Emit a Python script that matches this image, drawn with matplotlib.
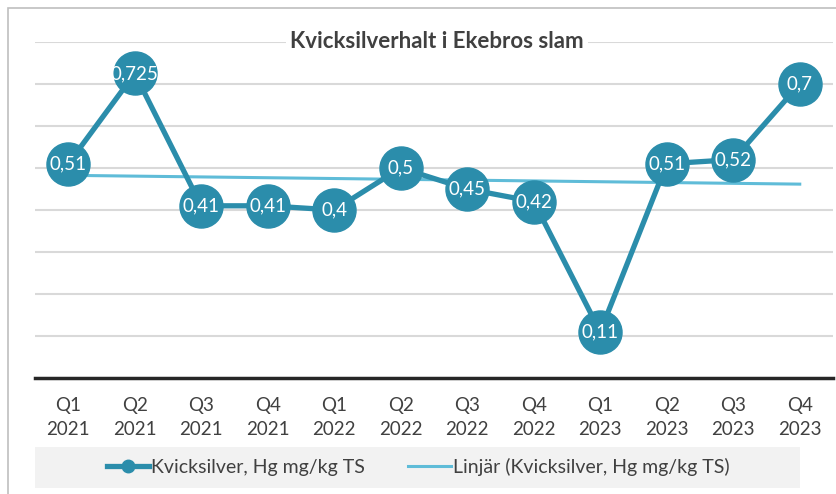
import numpy as np
import matplotlib.pyplot as plt
from matplotlib.patches import Rectangle
from matplotlib.lines import Line2D

quarters = ["Q1", "Q2", "Q3", "Q4", "Q1", "Q2", "Q3", "Q4", "Q1", "Q2", "Q3", "Q4"]
years = ["2021"] * 4 + ["2022"] * 4 + ["2023"] * 4
hg_values = [0.51, 0.725, 0.41, 0.41, 0.4, 0.5, 0.45, 0.42, 0.11, 0.51, 0.52, 0.7]
labels = [str(v).replace(".", ",") for v in hg_values]

main_col = "#2b8dab"
trend_col = "#5fbcd8"

plt.rcParams['font.family'] = ['Lato', 'DejaVu Sans']

fig = plt.figure(figsize=(8.37, 4.94), dpi=100)
W, H = 837, 494

# outer chart frame (cut at right/bottom like the screenshot)
fig.patches.append(Rectangle((8 / W, -0.1), 1.2, (H - 8) / H + 0.1, transform=fig.transFigure,
                             fill=False, edgecolor="#bfbfbf", lw=1.2))

ax = fig.add_axes([35 / W, (H - 378) / H, (833 - 35) / W, (378 - 42) / H])
x = np.arange(len(hg_values))

ax.set_ylim(0, 0.8)
ax.set_xlim(-0.5, len(hg_values) - 0.5)
for g in np.arange(0.1, 0.81, 0.1):
    ax.axhline(g, color="#d9d9d9", lw=1.5, zorder=0)

# linear trend
k, m = np.polyfit(x, hg_values, 1)
ax.plot(x, k * x + m, color=trend_col, lw=2.2, zorder=2)

ax.plot(x, hg_values, color=main_col, lw=3.8, marker="o", ms=31, zorder=3)
for xi, v, lab in zip(x, hg_values, labels):
    ax.text(xi, v, lab, color="white", ha="center", va="center", fontsize=13.5, zorder=4)

for s in ["top", "right", "left"]:
    ax.spines[s].set_visible(False)
ax.spines["bottom"].set_linewidth(2.5)
ax.spines["bottom"].set_color("#262626")
ax.set_yticks([])
ax.set_xticks(x)
ax.set_xticklabels([f"{q}\n{y}" for q, y in zip(quarters, years)], fontsize=13.5,
                   color="#404040", linespacing=1.45)
ax.tick_params(axis="x", length=0, pad=14)

fig.text(437 / W, (H - 42) / H, "Kvicksilverhalt i Ekebros slam", ha="center", va="center",
         fontsize=16, fontweight="bold", color="#404040",
         bbox=dict(facecolor="white", edgecolor="none", pad=3))

# legend
fig.patches.append(Rectangle((35 / W, (H - 488) / H), (800 - 35) / W, 41 / H,
                             transform=fig.transFigure, facecolor="#f2f2f2", edgecolor="none"))
handles = [Line2D([], [], color=main_col, lw=3.8, marker="o", ms=9),
           Line2D([], [], color=trend_col, lw=2.2)]
fig.legend(handles, ["Kvicksilver, Hg mg/kg TS", "Linjär (Kvicksilver, Hg mg/kg TS)"],
           loc="center", bbox_to_anchor=(418 / W, (H - 467) / H), ncol=2, frameon=False,
           fontsize=14, handlelength=2.2, handletextpad=0.1, columnspacing=2.2,
           labelcolor="#404040")

fig.savefig("out.png", dpi=100)
